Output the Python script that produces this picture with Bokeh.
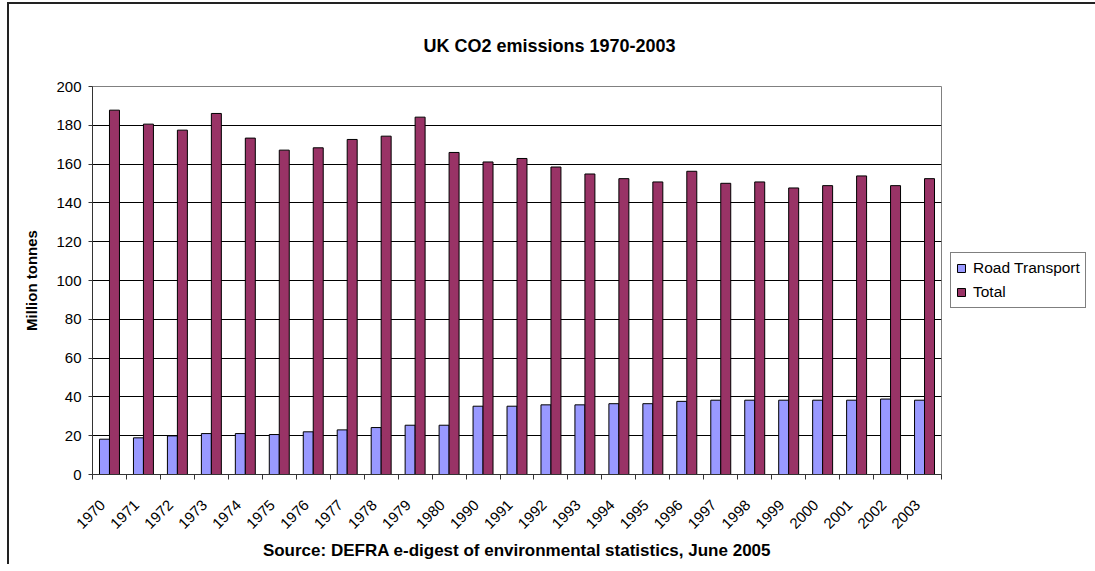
import math

from bokeh.embed import file_html
from bokeh.models import (ColumnDataSource, FixedTicker, Legend, LegendItem,
                          Range1d, SingleIntervalTicker, Title)
from bokeh.plotting import figure
from bokeh.resources import INLINE
from bokeh.transform import dodge

# UK CO2 emissions, million tonnes
years = ["1970", "1971", "1972", "1973", "1974", "1975", "1976", "1977",
         "1978", "1979", "1980", "1990", "1991", "1992", "1993", "1994",
         "1995", "1996", "1997", "1998", "1999", "2000", "2001", "2002",
         "2003"]
road_transport = [18.2, 18.9, 19.9, 21.1, 21.1, 20.6, 22.0, 23.0, 24.2, 25.4,
                  25.4, 35.2, 35.2, 35.9, 35.9, 36.5, 36.5, 37.7, 38.3, 38.3,
                  38.3, 38.3, 38.3, 38.9, 38.3]
total = [187.8, 180.6, 177.5, 186.1, 173.4, 167.2, 168.4, 172.7, 174.4, 184.2,
         166.0, 161.1, 162.9, 158.5, 154.9, 152.5, 150.8, 156.3, 150.1, 150.8,
         147.7, 148.9, 153.9, 148.9, 152.5]
y_ticks_step = 20

FONT = "Liberation Sans"
ROAD_COLOR = "#9999FF"
TOTAL_COLOR = "#993366"
EDGE = "#222222"

n = len(years)
source = ColumnDataSource(dict(slot=list(range(n)), year=years,
                               road=road_transport, total=total))

# dark rules along the left and top of the chart area, painted behind the
# (transparent) canvas border
edge_styles = {
    "background-color": "white",
    "background-image": f"linear-gradient({EDGE}, {EDGE}), linear-gradient({EDGE}, {EDGE})",
    "background-size": "2px 100%, 100% 2px",
    "background-position": "7px 2px, 7px 2px",
    "background-repeat": "no-repeat",
}

p = figure(frame_width=849, frame_height=388, output_backend="svg",
           toolbar_location=None, title=None, x_range=Range1d(0, n),
           y_range=Range1d(0, 200),
           min_border_left=92, min_border_right=154, min_border_top=86,
           min_border_bottom=90, background_fill_color="white",
           border_fill_alpha=0, outline_line_color="#808080",
           styles=edge_styles)

xa = p.below[0]
ya = p.left[0]

bar_w = 0.294
r_road = p.vbar(x=dodge("slot", 0.5 - bar_w / 2, range=p.x_range), top="road",
                width=bar_w, source=source, fill_color=ROAD_COLOR,
                line_color="black", line_width=1)
r_total = p.vbar(x=dodge("slot", 0.5 + bar_w / 2, range=p.x_range), top="total",
                 width=bar_w, source=source, fill_color=TOTAL_COLOR,
                 line_color="black", line_width=1)

# chart title, held well clear of the plot area
p.add_layout(Title(text="UK CO2 emissions 1970-2003", text_font=FONT,
                   text_font_size="18px", text_font_style="bold",
                   text_color="black", align="left", offset=331,
                   vertical_align="top", standoff=58), "above")

# x axis: slanted year labels, tick marks on the year boundaries
label_pos = [i + 0.3 for i in range(n)]
xa.ticker = FixedTicker(ticks=label_pos, minor_ticks=list(range(n + 1)))
xa.major_label_overrides = {c: y for c, y in zip(label_pos, years)}
xa.major_tick_out = 0
xa.major_tick_in = 0
xa.minor_tick_out = 5
xa.minor_tick_in = 0
xa.minor_tick_line_color = "#333333"
xa.major_label_orientation = math.pi / 4
xa.major_label_standoff = 23
xa.major_label_text_font = FONT
xa.major_label_text_font_size = "15px"
xa.major_label_text_color = "black"
xa.axis_line_color = "#333333"
xa.axis_label = "Source: DEFRA e-digest of environmental statistics, June 2005"
xa.axis_label_text_font = FONT
xa.axis_label_text_font_size = "17px"
xa.axis_label_text_font_style = "bold"
xa.axis_label_text_color = "black"
xa.axis_label_standoff = 5

# y axis
ya.ticker = SingleIntervalTicker(interval=y_ticks_step)
ya.minor_tick_line_color = None
ya.major_tick_out = 4
ya.major_tick_in = 0
ya.major_tick_line_color = "#333333"
ya.axis_line_color = "#333333"
ya.major_label_standoff = 7
ya.major_label_text_font = FONT
ya.major_label_text_font_size = "15px"
ya.major_label_text_color = "black"
ya.axis_label = "Million tonnes"
ya.axis_label_text_font = FONT
ya.axis_label_text_font_size = "15px"
ya.axis_label_text_font_style = "bold"
ya.axis_label_text_color = "black"
ya.axis_label_standoff = 13

p.xgrid.grid_line_color = None
p.ygrid.ticker = FixedTicker(ticks=list(range(y_ticks_step, 200, y_ticks_step)))
p.ygrid.grid_line_color = "black"
p.ygrid.grid_line_width = 1

legend = Legend(items=[LegendItem(label="Road Transport", renderers=[r_road]),
                       LegendItem(label="Total", renderers=[r_total])],
                location="left", orientation="vertical",
                border_line_color="black", border_line_width=1,
                background_fill_color="white", background_fill_alpha=1,
                padding=5, spacing=4, margin=9, glyph_width=10,
                glyph_height=10, label_standoff=7, label_height=20,
                label_text_font=FONT, label_text_font_size="15.5px",
                label_text_color="black")
p.add_layout(legend, "right")

open("out.html", "w").write(file_html(p, INLINE))
